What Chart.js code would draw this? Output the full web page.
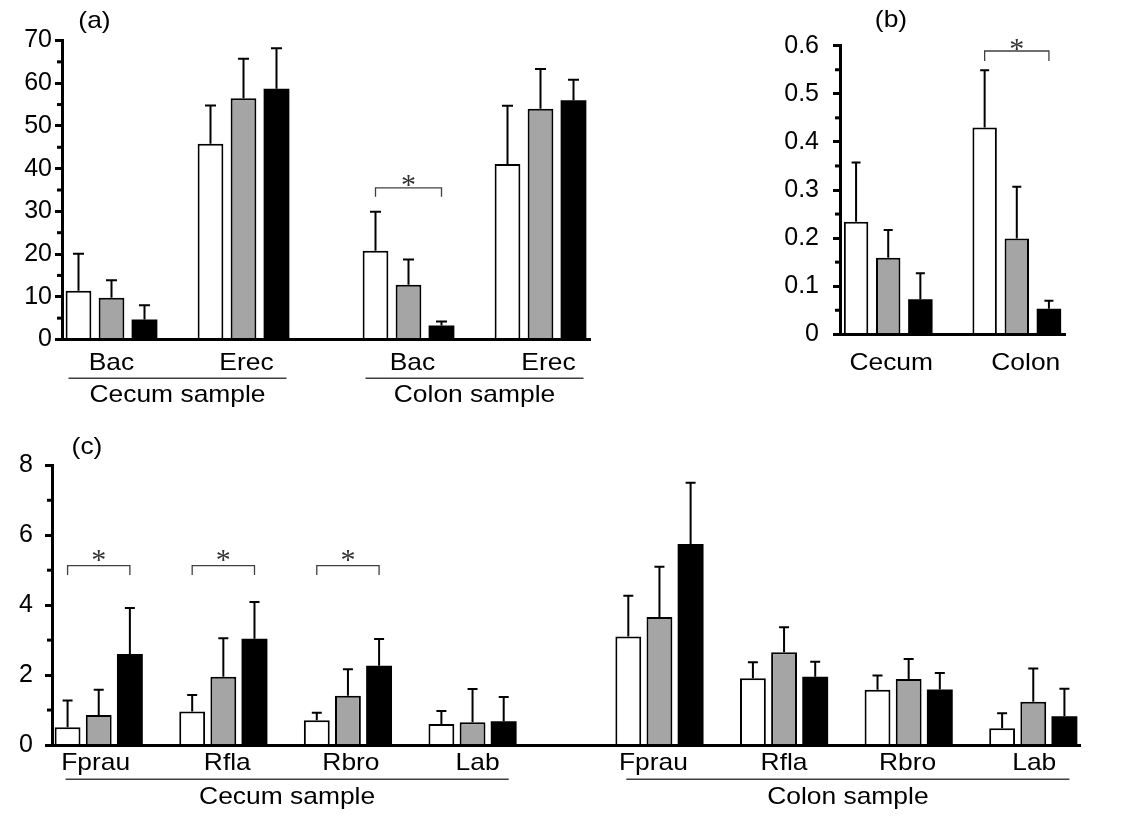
<!DOCTYPE html>
<html>
<head>
<meta charset="utf-8">
<script src="https://cdn.jsdelivr.net/npm/chart.js@4.4.0/dist/chart.umd.min.js"></script>
<style>
  html, body { margin: 0; padding: 0; background: #fff; }
  body { width: 1129px; height: 816px; position: relative; overflow: hidden; }
  canvas { position: absolute; display: block; }
</style>
</head>
<body>
<canvas id="ca" width="600" height="420" style="left:0;top:0;"></canvas>
<canvas id="cb" width="389" height="420" style="left:740px;top:0;"></canvas>
<canvas id="cc" width="1129" height="396" style="left:0;top:420px;"></canvas>
<script>
// ---------------- DATA ----------------
// Panel (a)
const aGroups  = ['Bac', 'Erec', 'Bac', 'Erec'];
const aSamples = ['Cecum sample', 'Colon sample'];
const aWhite   = [11.4, 45.8, 20.8, 41.1];
const aGray    = [9.8, 56.5, 12.8, 54.0];
const aBlack   = [4.7, 58.7, 3.3, 56.0];
const aWhiteSD = [8.7, 9.0, 9.1, 13.6];
const aGraySD  = [4.1, 9.2, 5.9, 9.3];
const aBlackSD = [3.3, 9.5, 0.9, 4.8];
const aSig     = [{ group: 2, y: 35.5 }];
const aYTicks  = [0, 70, 10];

// Panel (b)
const bGroups  = ['Cecum', 'Colon'];
const bWhite   = [0.234, 0.430];
const bGray    = [0.159, 0.199];
const bBlack   = [0.073, 0.053];
const bWhiteSD = [0.123, 0.119];
const bGraySD  = [0.058, 0.108];
const bBlackSD = [0.054, 0.017];
const bSig     = [{ group: 1, y: 0.589 }];
const bYTicks  = [0, 0.6, 0.1];

// Panel (c)
const cGroups  = ['Fprau', 'Rfla', 'Rbro', 'Lab', 'Fprau', 'Rfla', 'Rbro', 'Lab'];
const cSamples = ['Cecum sample', 'Colon sample'];
const cWhite   = [0.51, 0.96, 0.71, 0.60, 3.10, 1.91, 1.58, 0.48];
const cGray    = [0.86, 1.95, 1.41, 0.65, 3.66, 2.65, 1.89, 1.24];
const cBlack   = [2.60, 3.04, 2.27, 0.68, 5.75, 1.95, 1.59, 0.82];
const cWhiteSD = [0.76, 0.47, 0.21, 0.37, 1.17, 0.46, 0.41, 0.43];
const cGraySD  = [0.72, 1.10, 0.76, 0.95, 1.44, 0.72, 0.57, 0.95];
const cBlackSD = [1.32, 1.05, 0.76, 0.69, 1.75, 0.43, 0.47, 0.79];
const cSig     = [{ group: 0, y: 5.13 }, { group: 1, y: 5.13 }, { group: 2, y: 5.13 }];
const cYTicks  = [0, 8, 2];

// ---------------- LAYOUT / STYLE ----------------
const FONT = '"Liberation Sans", Arial, sans-serif';
const SERIF = '"Liberation Serif", "Times New Roman", serif';
const COLORS = ['#ffffff', '#a5a5a5', '#000000'];
const LABEL_SIZE = 24;
const STRETCH = 1.1;

function slotArray(nSlots, groupSlots, values, offset) {
  const arr = new Array(nSlots).fill(null);
  groupSlots.forEach((s, i) => { arr[s + offset] = values[i]; });
  return arr;
}

function stretchText(ctx, text, x, y) {
  ctx.save();
  ctx.translate(x, y);
  ctx.scale(STRETCH, 1);
  ctx.fillText(text, 0, 0);
  ctx.restore();
}

const decorPlugin = {
  id: 'decor',
  afterDatasetsDraw(chart, args, o) {
    const ctx = chart.ctx, ys = chart.scales.y;
    chart.data.datasets.forEach((ds, di) => {
      const meta = chart.getDatasetMeta(di);
      meta.data.forEach((el, i) => {
        const v = ds.data[i];
        if (v === null || v === undefined) return;
        const top = ys.getPixelForValue(v + ds.sd[i]);
        ctx.save();
        ctx.strokeStyle = '#000';
        ctx.lineWidth = o.errWidth;
        ctx.beginPath();
        ctx.moveTo(el.x, el.y);
        ctx.lineTo(el.x, top);
        ctx.moveTo(el.x - o.cap / 2, top);
        ctx.lineTo(el.x + o.cap / 2, top);
        ctx.stroke();
        ctx.restore();
      });
    });
  },
  afterDraw(chart, args, o) {
    const ctx = chart.ctx, xs = chart.scales.x, ys = chart.scales.y;
    const ca = chart.chartArea;
    ctx.save();
    // minor ticks (midpoints between major ticks)
    ctx.strokeStyle = '#000';
    ctx.lineWidth = 3;
    const t = ys.ticks;
    for (let i = 0; i < t.length - 1; i++) {
      const y = ys.getPixelForValue((t[i].value + t[i + 1].value) / 2);
      ctx.beginPath();
      ctx.moveTo(ca.left - o.minorLen, y);
      ctx.lineTo(ca.left, y);
      ctx.stroke();
    }
    // significance brackets
    (o.sig || []).forEach(g => {
      const s = o.groupSlots[g.group];
      const x1 = xs.getPixelForValue(s), x2 = xs.getPixelForValue(s + 2);
      const y = ys.getPixelForValue(g.y);
      ctx.strokeStyle = '#404040';
      ctx.lineWidth = 1.3;
      ctx.beginPath();
      ctx.moveTo(x1, y + o.drop);
      ctx.lineTo(x1, y);
      ctx.lineTo(x2, y);
      ctx.lineTo(x2, y + o.drop);
      ctx.stroke();
      ctx.fillStyle = '#333';
      ctx.font = '30px ' + SERIF;
      ctx.textAlign = 'center';
      ctx.textBaseline = 'alphabetic';
      ctx.fillText('*', (x1 + x2) / 2, y + o.starDy);
    });
    // group labels
    ctx.fillStyle = '#000';
    ctx.font = LABEL_SIZE + 'px ' + FONT;
    ctx.textAlign = 'center';
    ctx.textBaseline = 'middle';
    o.groups.forEach((name, i) => {
      const x = xs.getPixelForValue(o.groupSlots[i] + 1) + (o.labelShift[i] || 0);
      stretchText(ctx, name, x, ca.bottom + o.labelDy);
    });
    // sample labels with underline
    (o.samples || []).forEach((name, k) => {
      const [gFrom, gTo] = o.sampleRanges[k];
      const x1 = xs.getPixelForValue(o.groupSlots[gFrom]) - o.lineExt[0];
      const x2 = xs.getPixelForValue(o.groupSlots[gTo] + 2) + o.lineExt[1];
      ctx.strokeStyle = '#404040';
      ctx.lineWidth = 1.5;
      ctx.beginPath();
      ctx.moveTo(x1, ca.bottom + o.lineDy);
      ctx.lineTo(x2, ca.bottom + o.lineDy);
      ctx.stroke();
      ctx.fillStyle = '#000';
      stretchText(ctx, name, (x1 + x2) / 2, ca.bottom + o.sampleDy);
    });
    // panel title
    stretchText(ctx, o.title, o.titleX, o.titleY);
    ctx.restore();
  }
};

function makePanel(p) {
  const labels = Array.from({ length: p.nSlots }, (_, i) => String(i));
  const series = [
    { v: p.white, sd: p.whiteSD, off: 0 },
    { v: p.gray, sd: p.graySD, off: 1 },
    { v: p.black, sd: p.blackSD, off: 2 }
  ];
  const datasets = series.map((s, k) => ({
    data: slotArray(p.nSlots, p.groupSlots, s.v, s.off),
    sd: slotArray(p.nSlots, p.groupSlots, s.sd, s.off),
    backgroundColor: COLORS[k],
    borderColor: '#000',
    borderWidth: k === 2 ? 0 : 2,
    grouped: false,
    barPercentage: p.barPct,
    categoryPercentage: 1.0
  }));
  return new Chart(document.getElementById(p.id), {
    type: 'bar',
    data: { labels, datasets },
    plugins: [decorPlugin],
    options: {
      responsive: false,
      animation: false,
      events: [],
      layout: { padding: { left: 0, top: p.top, right: p.right, bottom: 0 } },
      plugins: {
        legend: { display: false },
        tooltip: { enabled: false },
        decor: {
          groups: p.groups, groupSlots: p.groupSlots, samples: p.samples,
          sampleRanges: p.sampleRanges, sig: p.sig, title: p.title,
          titleX: p.titleX, titleY: p.titleY, labelDy: p.labelDy,
          labelShift: p.labelShift,
          lineDy: p.lineDy, sampleDy: p.sampleDy, lineExt: p.lineExt,
          drop: p.drop, starDy: p.starDy, cap: p.cap, errWidth: 2, minorLen: 5
        }
      },
      scales: {
        x: {
          type: 'category',
          grid: { display: false },
          ticks: { display: false },
          border: { display: true, width: 3, color: '#000', z: 1 },
          afterFit: s => { s.height = p.xHeight; }
        },
        y: {
          min: p.yTicks[0], max: p.yTicks[1],
          ticks: { stepSize: p.yTicks[2], color: '#000', padding: p.tickPad,
                   font: { family: FONT, size: 25 } },
          grid: { display: true, drawOnChartArea: false, drawTicks: true,
                  tickLength: 7, tickWidth: 3, tickColor: '#000' },
          border: { display: true, width: 3, color: '#000', z: 1 },
          afterFit: s => { s.width = p.yWidth; }
        }
      }
    }
  });
}

makePanel({
  id: 'ca', nSlots: 16, groupSlots: [0, 4, 9, 13], barPct: 0.78,
  groups: aGroups, samples: aSamples, sampleRanges: [[0, 1], [2, 3]],
  white: aWhite, gray: aGray, black: aBlack,
  whiteSD: aWhiteSD, graySD: aGraySD, blackSD: aBlackSD,
  sig: aSig, yTicks: aYTicks,
  yWidth: 62, xHeight: 80.5, top: 40.5, right: 10, tickPad: 3,
  title: '(a)', titleX: 94.5, titleY: 21,
  labelDy: 23.5, labelShift: [0, 3, 4, 8],
  lineDy: 38.7, sampleDy: 55.5, lineExt: [10, 10],
  drop: 9, starDy: 6, cap: 11
});

makePanel({
  id: 'cb', nSlots: 7, groupSlots: [0, 4], barPct: 0.76,
  groups: bGroups, samples: [], sampleRanges: [],
  white: bWhite, gray: bGray, black: bBlack,
  whiteSD: bWhiteSD, graySD: bGraySD, blackSD: bBlackSD,
  sig: bSig, yTicks: bYTicks,
  yWidth: 100, xHeight: 85.7, top: 45.7, right: 64, tickPad: 14,
  title: '(b)', titleX: 151, titleY: 20,
  labelDy: 28.7, labelShift: [3, 9],
  lineDy: 0, sampleDy: 0, lineExt: [0, 0],
  drop: 10, starDy: 7, cap: 9
});

makePanel({
  id: 'cc', nSlots: 33, groupSlots: [0, 4, 8, 12, 18, 22, 26, 30], barPct: 0.83,
  groups: cGroups, samples: cSamples, sampleRanges: [[0, 3], [4, 7]],
  white: cWhite, gray: cGray, black: cBlack,
  whiteSD: cWhiteSD, graySD: cGraySD, blackSD: cBlackSD,
  sig: cSig, yTicks: cYTicks,
  yWidth: 52, xHeight: 71, top: 45.3, right: 49, tickPad: 12,
  title: '(c)', titleX: 87, titleY: 27,
  labelDy: 18.7, labelShift: [-3, 4, 3, 5, -6, 0, -1, 1],
  lineDy: 34.3, sampleDy: 52.7, lineExt: [2, 5],
  drop: 9.3, starDy: 3.5, cap: 10
});
</script>
</body>
</html>
